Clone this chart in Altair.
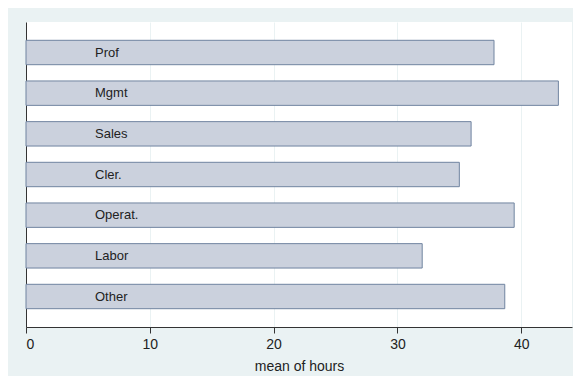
import altair as alt
import pandas as pd

categories = ["Prof", "Mgmt", "Sales", "Cler.", "Operat.", "Labor", "Other"]
mean_hours = [37.8, 43.0, 35.95, 35.0, 39.43, 32.0, 38.67]
x_ticks = [0, 10, 20, 30, 40]

df = pd.DataFrame({"occ": categories, "hours": mean_hours})

font = "Liberation Sans"

y_enc = alt.Y(
    "occ:N",
    sort=categories,
    scale=alt.Scale(paddingInner=0.4, paddingOuter=0.45),
    axis=alt.Axis(labels=False, ticks=False, title=None, domain=True,
                  domainColor="#333333", domainWidth=1, grid=False),
)

bars = alt.Chart(df).mark_bar(
    fill="#CBD1DD", stroke="#7084A0", strokeWidth=1, cornerRadius=0
).encode(
    x=alt.X(
        "hours:Q",
        scale=alt.Scale(domain=[0, 44.1], nice=False, zero=True),
        axis=alt.Axis(
            values=x_ticks, title="mean of hours", grid=True,
            gridColor="#EAF2F3", gridWidth=1,
            domainColor="#333333", tickColor="#333333", tickSize=6,
            labelFont=font, labelFontSize=14, labelColor="#222222",
            labelPadding=4, titleFont=font, titleFontSize=14,
            titleFontWeight="normal", titleColor="#222222", titlePadding=8,
        ),
    ),
    y=y_enc,
)

labels = alt.Chart(df).mark_text(
    align="left", baseline="middle", font=font, fontSize=13, color="#222222"
).encode(
    x=alt.value(69),
    y=alt.Y("occ:N", sort=categories),
    text="occ:N",
)

chart = (bars + labels).properties(
    width=546,
    height=305,
    autosize=alt.AutoSizeParams(type="none"),
    padding={"left": 18, "top": 14, "right": 1, "bottom": 49},
    background="#EAF2F3",
).configure_view(fill="white", stroke=None)

chart.save("out.html", embed_options={"renderer": "svg", "actions": False})
